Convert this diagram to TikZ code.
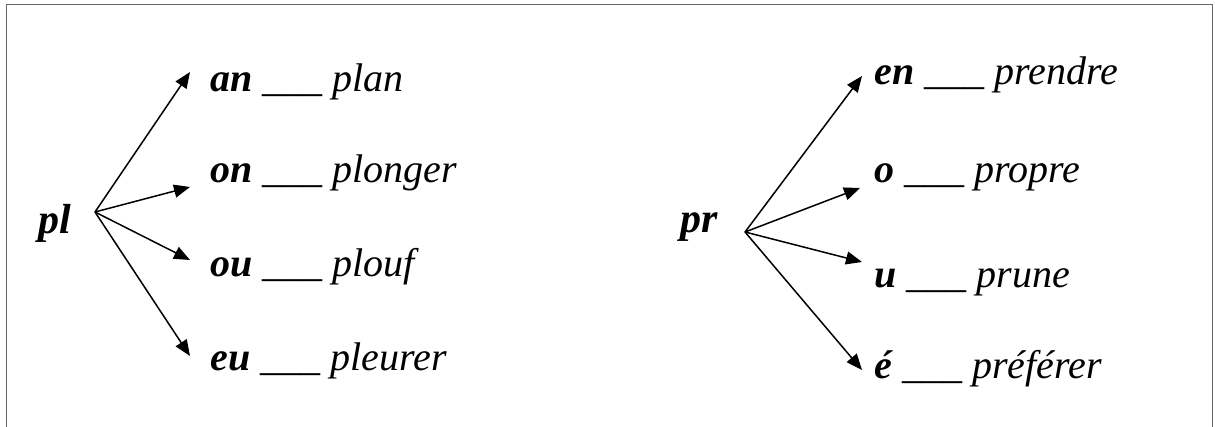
\documentclass[tikz,border=0pt]{standalone}
\usepackage{fontspec}
\setmainfont{Liberation Serif}
\usetikzlibrary{arrows.meta, positioning, calc}

\begin{document}
\begin{tikzpicture}[
    x=0.5pt, y=-0.5pt,
    >={Triangle[length=8pt, width=6.5pt]},
    rootnode/.style={anchor=base west, inner sep=0pt, font=\fontsize{21}{25}\selectfont\bfseries\itshape},
    wordnode/.style={anchor=base west, inner sep=0pt, font=\fontsize{20}{24}\selectfont\itshape},
    conn/.style={->, line width=0.75pt}
]
\useasboundingbox (0,0) rectangle (1215,427);

% Frame
\draw[black!60, line width=0.5pt] (6,427) -- (6,5) -- (1212,5) -- (1212,427);

% Left group: pl
\node[rootnode] (pl) at (38,234) {pl};
\coordinate (plO) at (95,212);

\foreach \n/\y/\p/\w in {an/92/an/plan, on/183/on/plonger, ou/277/ou/plouf, eu/370/eu/pleurer}
    \node[wordnode] (L\n) at (210,\y) {\textbf{\p} \_\_\_ \w};

\foreach \n/\ty in {an/72, on/187, ou/260, eu/356}
    \coordinate (L\n tip) at (190,\ty);

% Right group: pr
\node[rootnode] (pr) at (680,233) {pr};
\coordinate (prO) at (745,232);

\foreach \n/\y/\p/\w in {en/85/en/prendre, o/183/o/propre, u/287/u/prune, e/378/é/préférer}
    \node[wordnode] (R\n) at (874,\y) {\textbf{\p} \_\_\_ \w};

\foreach \n/\tx/\ty in {en/862/76, o/860/188, u/862/262, e/862/370}
    \coordinate (R\n tip) at (\tx,\ty);

% Connections
\foreach \n in {an,on,ou,eu}
    \draw[conn] (plO) -- (L\n tip);

\foreach \n in {en,o,u,e}
    \draw[conn] (prO) -- (R\n tip);

\end{tikzpicture}
\end{document}
